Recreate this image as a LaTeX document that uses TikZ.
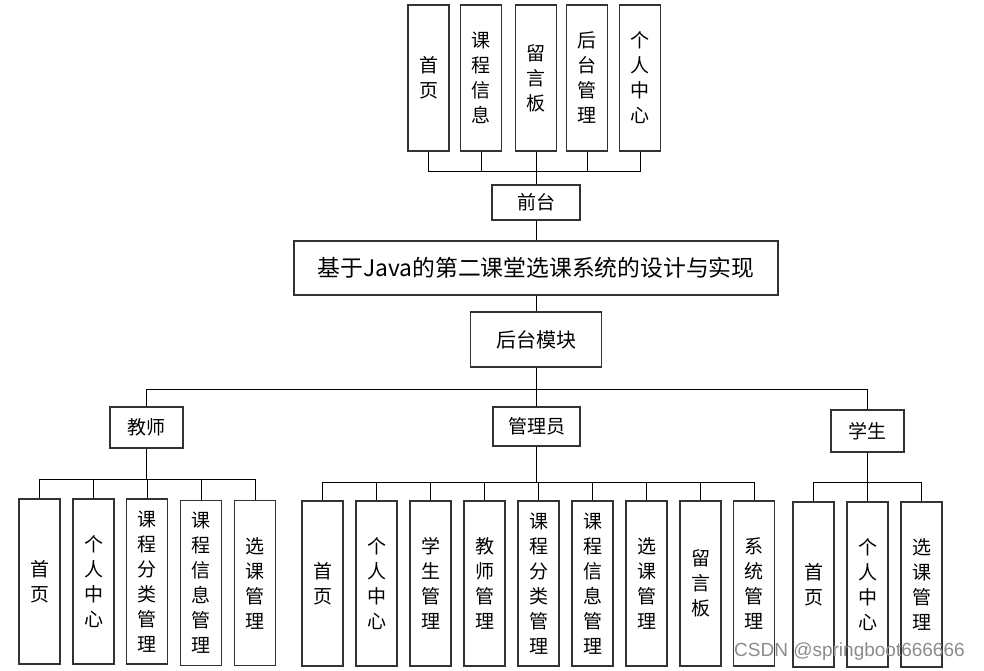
\documentclass[tikz,border=0pt]{standalone}
\usepackage{fontspec}
\setmainfont{Noto Sans CJK SC}
\newfontfamily\wmfont{Liberation Sans}
\begin{document}
\begin{tikzpicture}[x=1pt,y=-1pt,
    box/.style={draw=black!80,line width=1.2pt,fill=white,inner sep=0pt,align=center,
      font=\fontsize{19}{25}\selectfont},
    colbox/.style={box,minimum width=41pt,minimum height=#1},
    colbox/.default=165pt,
    link/.style={line width=1pt,black}]
  \useasboundingbox (0,0) rectangle (984,671);
  % top: front end
  \node[colbox=146pt] (t1) at (428.5,78) {首\\页};
  \node[colbox=146pt] (t2) at (481,78) {课\\程\\信\\息};
  \node[colbox=146pt] (t3) at (536,78) {留\\言\\板};
  \node[colbox=146pt] (t4) at (587,78) {后\\台\\管\\理};
  \node[colbox=146pt] (t5) at (640,78) {个\\人\\中\\心};
  \node[box,minimum width=88pt,minimum height=35pt] (qt) at (536,202.5) {前台};
  \node[box,minimum width=484pt,minimum height=54pt,font=\fontsize{22.8}{26}\selectfont] (title) at (536,268) {基于Java的第二课堂选课系统的设计与实现};
  \node[box,minimum width=131pt,minimum height=55pt,font=\fontsize{20}{25}\selectfont] (ht) at (536,339.5) {后台模块};
  % roles
  \node[box,minimum width=73pt,minimum height=41pt] (js) at (146.5,427.5) {教师};
  \node[box,minimum width=87pt,minimum height=39pt] (gly) at (536.5,426.5) {管理员};
  \node[box,minimum width=73pt,minimum height=42pt] (xs) at (867.5,431) {学生};
  % teacher modules
  \node[colbox] (j1) at (39.5,581.5) {首\\页};
  \node[colbox] (j2) at (93.5,581.5) {个\\人\\中\\心};
  \node[colbox] (j3) at (147,581.5) {课\\程\\分\\类\\管\\理};
  \node[colbox] (j4) at (201,583) {课\\程\\信\\息\\管\\理};
  \node[colbox] (j5) at (255,583) {选\\课\\管\\理};
  % admin modules
  \node[colbox] (g1) at (322.5,583.5) {首\\页};
  \node[colbox] (g2) at (376.5,583.5) {个\\人\\中\\心};
  \node[colbox] (g3) at (430.5,583.5) {学\\生\\管\\理};
  \node[colbox] (g4) at (484.5,583.5) {教\\师\\管\\理};
  \node[colbox] (g5) at (538.5,583.5) {课\\程\\分\\类\\管\\理};
  \node[colbox] (g6) at (592.5,583.5) {课\\程\\信\\息\\管\\理};
  \node[colbox] (g7) at (646.5,583.5) {选\\课\\管\\理};
  \node[colbox] (g8) at (700.5,583.5) {留\\言\\板};
  \node[colbox] (g9) at (754,583.5) {系\\统\\管\\理};
  % student modules
  \node[colbox] (x1) at (813.5,584.5) {首\\页};
  \node[colbox] (x2) at (867.5,584.5) {个\\人\\中\\心};
  \node[colbox] (x3) at (921.5,584.5) {选\\课\\管\\理};
  % connectors
  \draw[link] (qt.north) -- ++(0,-13) coordinate (qbus);
  \foreach \n in {t1,t2,t3,t4,t5} \draw[link] (\n.south) |- (qbus);
  \draw[link] (qt.south) -- (title.north);
  \draw[link] (title.south) -- (ht.north);
  \draw[link] (ht.south) -- ++(0,22) coordinate (hbus);
  \foreach \n in {js,gly,xs} \draw[link] (\n.north) |- (hbus);
  \draw[link] (js.south) -- ++(0,31) coordinate (jbus);
  \foreach \n in {j1,j2,j3,j4,j5} \draw[link] (\n.north) |- (jbus);
  \draw[link] (gly.south) -- ++(0,36) coordinate (gbus);
  \foreach \n in {g1,g2,g3,g4,g5,g6,g7,g8,g9} \draw[link] (\n.north) |- (gbus);
  \draw[link] (xs.south) -- ++(0,30) coordinate (xbus);
  \foreach \n in {x1,x2,x3} \draw[link] (\n.north) |- (xbus);
  % watermark
  \node[anchor=west,inner sep=0pt,text=black!45,font=\wmfont\fontsize{19}{19}\selectfont] (wm) at (734,652) {CSDN @springboot666666};
\end{tikzpicture}
\end{document}
